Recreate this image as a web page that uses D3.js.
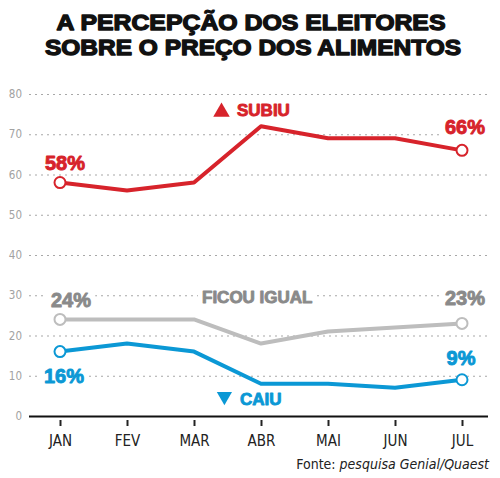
<!DOCTYPE html>
<html>
<head>
<meta charset="utf-8">
<script src="https://cdn.jsdelivr.net/npm/d3@7"></script>
<style>
  body { margin: 0; background: #fff; }
  svg { display: block; }
  .title { font-family: "Liberation Sans", Arial, sans-serif; font-weight: bold; font-size: 21.5px; fill: #111; stroke: #111; stroke-width: 1.3px; stroke-linejoin: round; }
  .ylab text { font-family: "Liberation Sans Narrow", "DejaVu Sans Condensed", sans-serif; font-size: 11.5px; fill: #a2a2a2; }
  .xlab text { font-family: "Liberation Sans Narrow", "DejaVu Sans Condensed", sans-serif; font-size: 15px; fill: #222; }
  .big { font-family: "Liberation Sans", Arial, sans-serif; font-weight: bold; stroke-width: 0.9px; stroke-linejoin: round; }
  .src { font-family: "Liberation Sans Narrow", "DejaVu Sans Condensed", sans-serif; font-size: 14px; fill: #222; }
</style>
</head>
<body>
<div id="chart"></div>
<script>
var months = ["JAN", "FEV", "MAR", "ABR", "MAI", "JUN", "JUL"];
var subiu = [58, 56, 58, 72, 69, 69, 66];
var ficou = [24, 24, 24, 18, 21, 22, 23];
var caiu = [16, 18, 16, 8, 8, 7, 9];
var yTicks = [0, 10, 20, 30, 40, 50, 60, 70, 80];

var width = 500, height = 478;
var left = 29, right = 488;

var svg = d3.select("#chart")
  .append("svg")
    .attr("width", width)
    .attr("height", height);

var x = d3.scalePoint()
  .domain(months)
  .range([60, 462]);

var y = d3.scaleLinear()
  .domain([0, 80])
  .range([416, 94]);

// title
svg.append("text").classed("title", true)
  .attr("x", 251).attr("y", 30)
  .attr("text-anchor", "middle")
  .attr("textLength", 389).attr("lengthAdjust", "spacingAndGlyphs")
  .text("A PERCEPÇÃO DOS ELEITORES");
svg.append("text").classed("title", true)
  .attr("x", 253).attr("y", 55)
  .attr("text-anchor", "middle")
  .attr("textLength", 416).attr("lengthAdjust", "spacingAndGlyphs")
  .text("SOBRE O PREÇO DOS ALIMENTOS");

// y axis + grid
var yAxis = svg.append("g")
  .classed("ylab", true)
  .attr("transform", "translate(" + left + ",0)")
  .call(d3.axisLeft(y).tickValues(yTicks).tickSize(-(right - left)).tickPadding(7));
yAxis.select(".domain").remove();
yAxis.selectAll("line")
  .attr("stroke", function(d) { return d === 0 ? "#111" : "#a8a8a8"; })
  .attr("stroke-width", function(d) { return d === 0 ? 2 : 1.2; })
  .attr("stroke-dasharray", function(d) { return d === 0 ? null : "2,4"; });

// x axis
var xAxis = svg.append("g")
  .classed("xlab", true)
  .attr("transform", "translate(0,420)")
  .call(d3.axisBottom(x).tickSize(6).tickPadding(9));
xAxis.select(".domain").remove();
xAxis.selectAll("line").attr("stroke", "#222").attr("stroke-width", 2);

// labels with a white box behind them (cuts the dotted grid)
var labels = svg.append("g");
function big(txt, px, py, color, size, anchor) {
  var t = labels.append("text").classed("big", true)
    .attr("x", px).attr("y", py)
    .attr("fill", color)
    .attr("stroke", color)
    .attr("font-size", size)
    .attr("text-anchor", anchor || "middle")
    .text(txt);
  var b = t.node().getBBox();
  labels.insert("rect", function() { return t.node(); })
    .attr("x", b.x - 4).attr("y", py - size * 0.75 - 3)
    .attr("width", b.width + 8).attr("height", size * 0.75 + 6)
    .attr("fill", "#fff");
  return t;
}

big(subiu[0] + "%", x("JAN") + 5, y(subiu[0]) - 13, "#d7232b", 20);
big(subiu[6] + "%", x("JUL") + 3, y(subiu[6]) - 16, "#d7232b", 20);
big(ficou[0] + "%", x("JAN") + 11, y(ficou[0]) - 12, "#8a8a8a", 20);
big(ficou[6] + "%", x("JUL") + 3, y(ficou[6]) - 18, "#8a8a8a", 20);
big(caiu[0] + "%", x("JAN") + 4, y(caiu[0]) + 31, "#0b98d5", 20);
big(caiu[6] + "%", x("JUL") - 1, y(caiu[6]) - 15, "#0b98d5", 20);

big("SUBIU", 237, 116, "#d7232b", 17, "start");
big("FICOU IGUAL", 202, 303, "#8a8a8a", 17, "start");
big("CAIU", 240, 405, "#0b98d5", 17, "start");

// up / down arrows
labels.append("path")
  .attr("d", d3.symbol().type(d3.symbolTriangle).size(118)())
  .attr("transform", "translate(221.5,112)")
  .attr("fill", "#d7232b");
labels.append("path")
  .attr("d", d3.symbol().type(d3.symbolTriangle).size(100)())
  .attr("transform", "translate(224.4,396.4) rotate(180)")
  .attr("fill", "#0b98d5");

var series = [
  {name: "subiu", values: subiu, color: "#d7232b"},
  {name: "ficou", values: ficou, color: "#bdbdbd"},
  {name: "caiu", values: caiu, color: "#0b98d5"}
];

var line = d3.line()
  .x(function(d, i) { return x(months[i]); })
  .y(function(d) { return y(d); });

series.forEach(function(s) {
  svg.append("path")
    .datum(s.values)
    .attr("d", line)
    .attr("fill", "none")
    .attr("stroke", s.color)
    .attr("stroke-width", 4)
    .attr("stroke-linejoin", "round");

  var ends = [0, s.values.length - 1];
  svg.selectAll(".dot-" + s.name)
    .data(ends)
    .enter()
    .append("circle")
      .attr("cx", function(i) { return x(months[i]); })
      .attr("cy", function(i) { return y(s.values[i]); })
      .attr("r", 5.5)
      .attr("fill", "#fff")
      .attr("stroke", s.color)
      .attr("stroke-width", 2);
});

// source
var src = svg.append("text").classed("src", true)
  .attr("x", 489).attr("y", 469)
  .attr("text-anchor", "end");
src.append("tspan").text("Fonte: ");
src.append("tspan").attr("font-style", "italic").text("pesquisa Genial/Quaest");
</script>
</body>
</html>
